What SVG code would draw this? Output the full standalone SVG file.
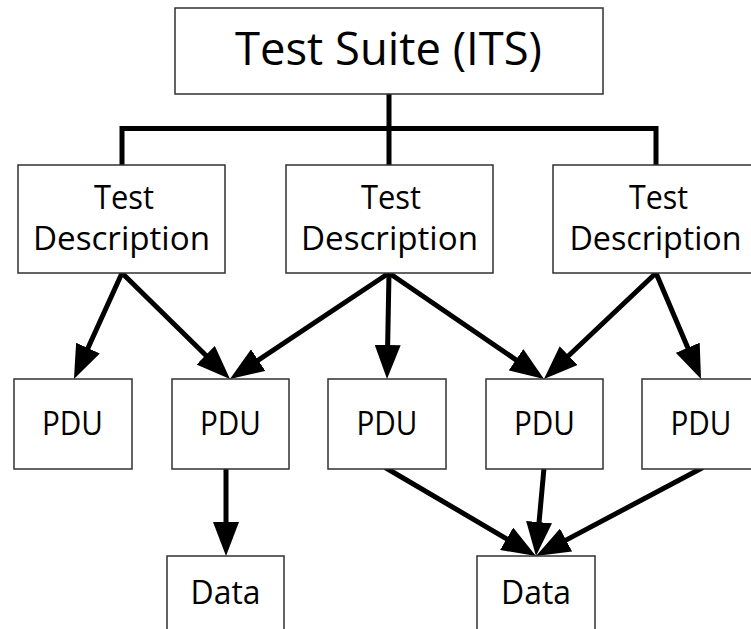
<svg xmlns="http://www.w3.org/2000/svg" width="751" height="629" viewBox="0 0 751 629">
<style>
  .box { fill: #ffffff; stroke: #303030; stroke-width: 1.5; }
  .lbl { font-family: "Open Sans", "DejaVu Sans", sans-serif; fill: #000; text-anchor: middle; }
  .t46 { font-size: 46px; }
  .t35 { font-size: 33px; }
  .t33 { font-size: 33px; }
  .tree { fill: none; stroke: #000; stroke-width: 5; stroke-linejoin: miter; }
  .arr { fill: none; stroke: #000; stroke-width: 5; stroke-linecap: round; marker-end: url(#ah); }
</style>
<defs>
  <marker id="ah" markerUnits="userSpaceOnUse" markerWidth="34" markerHeight="26" refX="14" refY="13" orient="auto" viewBox="0 0 34 26">
    <path d="M0,0 L34,13 L0,26 Z" fill="#000"/>
  </marker>
</defs>
<rect width="751" height="629" fill="#ffffff"/>

<g id="connectors">
  <path class="tree" d="M389,94 V165 M122,165 V128.5 H656 V165"/>
  <line class="arr" x1="122" y1="273" x2="82.2" y2="360.8"/>
  <line class="arr" x1="122" y1="273" x2="215.7" y2="365.0"/>
  <line class="arr" x1="389" y1="273" x2="246.6" y2="367.9"/>
  <line class="arr" x1="389" y1="273" x2="387.4" y2="359"/>
  <line class="arr" x1="389" y1="273" x2="527.5" y2="367.7"/>
  <line class="arr" x1="656" y1="273" x2="558.5" y2="365.3"/>
  <line class="arr" x1="656" y1="273" x2="693.2" y2="360.6"/>
  <line class="arr" x1="226" y1="468" x2="226" y2="536"/>
  <line class="arr" x1="386" y1="468" x2="518.7" y2="545.9"/>
  <line class="arr" x1="544" y1="468" x2="537.8" y2="536.1"/>
  <line class="arr" x1="702" y1="468" x2="553.7" y2="546.6"/>
</g>

<g id="suite">
  <rect class="box" x="175" y="8" width="428" height="86"/>
  <text class="lbl t46" x="388.5" y="65" textLength="307" lengthAdjust="spacingAndGlyphs">Test Suite (ITS)</text>
</g>

<g id="td1">
  <rect class="box" x="18" y="165" width="207" height="108"/>
  <text class="lbl t35" x="124" y="209" textLength="60" lengthAdjust="spacingAndGlyphs">Test</text>
  <text class="lbl t35" x="121.5" y="250" textLength="177" lengthAdjust="spacingAndGlyphs">Description</text>
</g>
<g id="td2">
  <rect class="box" x="286" y="165" width="207" height="108"/>
  <text class="lbl t35" x="391" y="209" textLength="60" lengthAdjust="spacingAndGlyphs">Test</text>
  <text class="lbl t35" x="389.5" y="250" textLength="177" lengthAdjust="spacingAndGlyphs">Description</text>
</g>
<g id="td3">
  <rect class="box" x="553" y="165" width="207" height="108"/>
  <text class="lbl t35" x="658.5" y="209" textLength="59" lengthAdjust="spacingAndGlyphs">Test</text>
  <text class="lbl t35" x="655.5" y="250" textLength="172" lengthAdjust="spacingAndGlyphs">Description</text>
</g>

<g id="pdu1">
  <rect class="box" x="14" y="379" width="118" height="90"/>
  <text class="lbl t33" x="72.5" y="435" textLength="61" lengthAdjust="spacingAndGlyphs">PDU</text>
</g>
<g id="pdu2">
  <rect class="box" x="172" y="379" width="117" height="90"/>
  <text class="lbl t33" x="230.5" y="435" textLength="61" lengthAdjust="spacingAndGlyphs">PDU</text>
</g>
<g id="pdu3">
  <rect class="box" x="328" y="379" width="118" height="90"/>
  <text class="lbl t33" x="387" y="435" textLength="61" lengthAdjust="spacingAndGlyphs">PDU</text>
</g>
<g id="pdu4">
  <rect class="box" x="486" y="379" width="117" height="90"/>
  <text class="lbl t33" x="544.5" y="435" textLength="61" lengthAdjust="spacingAndGlyphs">PDU</text>
</g>
<g id="pdu5">
  <rect class="box" x="642" y="379" width="118" height="90"/>
  <text class="lbl t33" x="701" y="435" textLength="61" lengthAdjust="spacingAndGlyphs">PDU</text>
</g>

<g id="data1">
  <rect class="box" x="167" y="556" width="117" height="90"/>
  <text class="lbl t33" x="225.5" y="604" textLength="70" lengthAdjust="spacingAndGlyphs">Data</text>
</g>
<g id="data2">
  <rect class="box" x="477" y="556" width="118" height="90"/>
  <text class="lbl t33" x="536" y="604" textLength="70" lengthAdjust="spacingAndGlyphs">Data</text>
</g>
</svg>
